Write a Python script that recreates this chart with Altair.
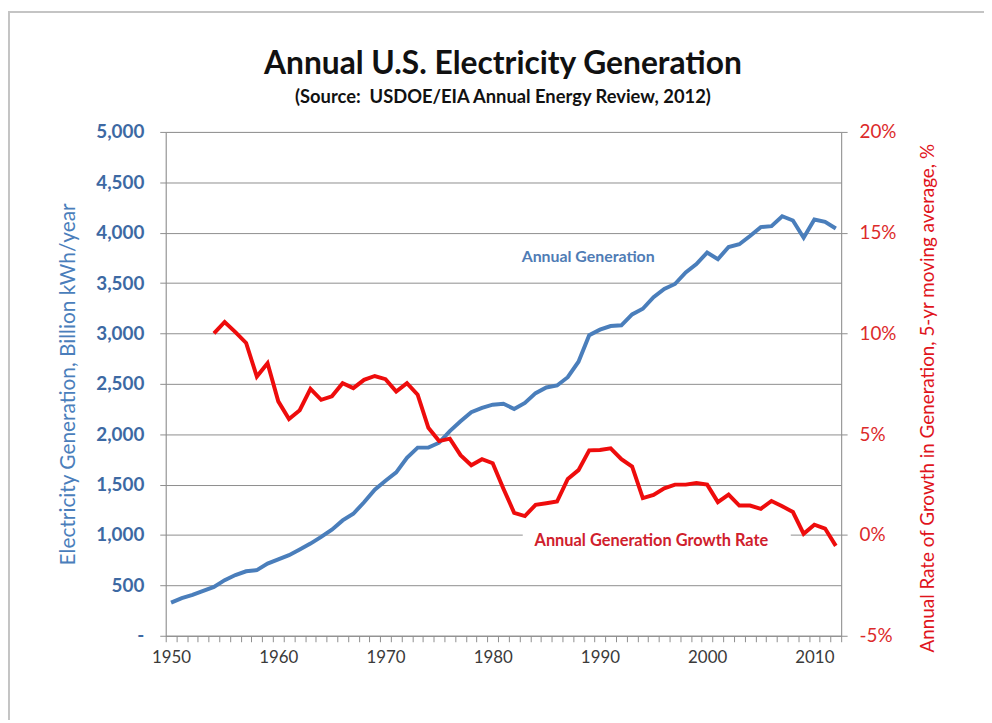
import altair as alt
import pandas as pd

# ---- data ----
gen_years = list(range(1950, 2013))
generation = [329, 374, 405, 446, 485, 552, 603, 640, 652, 716,
              758, 800, 856, 915, 981, 1053, 1145, 1211, 1325, 1450,
              1539, 1621, 1765, 1867, 1867, 1916, 2031, 2129, 2218, 2261,
              2293, 2303, 2251, 2310, 2408, 2464, 2484, 2566, 2720, 2982,
              3038, 3074, 3081, 3189, 3245, 3360, 3442, 3491, 3606, 3688,
              3803, 3737, 3858, 3885, 3967, 4055, 4065, 4163, 4121, 3950,
              4131, 4108, 4042]

rate_years = list(range(1954, 2013))
growth_rate = [10.0, 10.57, 10.07, 9.53, 7.86, 8.52, 6.63, 5.76, 6.19, 7.25,
               6.71, 6.88, 7.53, 7.29, 7.70, 7.89, 7.73, 7.12, 7.53, 6.96,
               5.32, 4.66, 4.78, 3.96, 3.46, 3.76, 3.56, 2.30, 1.10, 0.94,
               1.50, 1.58, 1.66, 2.78, 3.22, 4.20, 4.22, 4.30, 3.76, 3.40,
               1.83, 1.99, 2.32, 2.50, 2.50, 2.58, 2.50, 1.63, 2.00, 1.46,
               1.46, 1.30, 1.69, 1.43, 1.14, 0.06, 0.51, 0.32, -0.54]

left_ticks = [0, 500, 1000, 1500, 2000, 2500, 3000, 3500, 4000, 4500, 5000]
right_ticks = [-5, 0, 5, 10, 15, 20]
x_bounds = [1949.5 + i for i in range(64)]

title_text = "Annual U.S. Electricity Generation"
subtitle_text = "(Source:\u00a0 USDOE/EIA Annual Energy Review, 2012)"

gen_df = pd.DataFrame({"year": gen_years, "gen": generation})
rate_df = pd.DataFrame({"year": rate_years, "rate": growth_rate})
gen_label_df = pd.DataFrame({"year": [1982.7], "gen": [3760], "text": ["Annual Generation"]})
rate_label_df = pd.DataFrame({"year": [1983.9], "rate": [-0.28], "text": ["Annual Generation Growth Rate"]})
mask_df = pd.DataFrame({"year": [1982.8], "x2": [2007.8], "rate": [-0.6], "y2": [0.4]})
one_row = pd.DataFrame({"k": [0]})
title_df = pd.DataFrame({"t": [title_text]})
subtitle_df = pd.DataFrame({"t": [subtitle_text]})

FONT = "Lato"
BLUE = "#4a7ebb"
BLUE_TXT = "#3d69a3"
RED = "#ee0c0c"
RED_TXT = "#dc2a2a"
GRID = "#8e8e8e"
FRAME = "#c4c4c4"

x_scale = alt.Scale(domain=[1949.5, 2012.5], nice=False, zero=False)
x_axis = alt.Axis(
    values=x_bounds,
    labelExpr="((datum.value + 0.5) % 10 == 0) ? toString(datum.value + 0.5) : ''",
    labelOffset=5.4, labelOverlap=False, labelFlush=False, grid=False,
    tickSize=6, tickColor=GRID, domainColor=GRID, labelFont=FONT,
    labelFontSize=17, labelColor="#3a3a3a", labelPadding=8, title=None,
)
x_enc = alt.X("year:Q", scale=x_scale, axis=x_axis)

yl_scale = alt.Scale(domain=[0, 5000], nice=False, zero=False)
yr_scale = alt.Scale(domain=[-5, 20], nice=False, zero=False)

yl_axis = alt.Axis(
    values=left_ticks,
    labelExpr="datum.value == 0 ? '-' : format(datum.value, ',')",
    grid=True, gridColor=GRID, gridWidth=1, tickSize=6, tickColor=GRID,
    domainColor=GRID, labelFont=FONT, labelFontSize=19, labelFontWeight="bold",
    labelColor=BLUE_TXT, labelPadding=16,
    title="Electricity Generation, Billion kWh/year",
    titleFont=FONT, titleFontSize=21, titleFontWeight="normal",
    titleColor=BLUE, titlePadding=17,
)
yr_axis = alt.Axis(
    values=right_ticks, orient="right",
    labelExpr="datum.value + '%'",
    grid=False, tickSize=6, tickColor=GRID, domainColor=GRID,
    labelFont=FONT, labelFontSize=19, labelColor=RED_TXT, labelPadding=12,
    title="Annual Rate of Growth in Generation, 5-yr moving average, %",
    titleFont=FONT, titleFontSize=19, titleFontWeight="normal",
    titleColor="#e0141c", titlePadding=23, titleAngle=270, titleBaseline="top",
    titleY=268,
)

gen_line = alt.Chart(gen_df).mark_line(color=BLUE, strokeWidth=4).encode(
    x=x_enc,
    y=alt.Y("gen:Q", scale=yl_scale, axis=yl_axis),
)
gen_text = alt.Chart(gen_label_df).mark_text(
    align="left", baseline="middle", font=FONT, fontSize=16,
    fontWeight="bold", color="#4f7cb5",
).encode(x=x_enc, y=alt.Y("gen:Q", scale=yl_scale, axis=yl_axis), text="text:N")

left = alt.layer(gen_line, gen_text)

mask = alt.Chart(mask_df).mark_rect(color="white").encode(
    x=x_enc, x2="x2:Q",
    y=alt.Y("rate:Q", scale=yr_scale, axis=yr_axis), y2="y2:Q",
)
rate_line = alt.Chart(rate_df).mark_line(color=RED, strokeWidth=4).encode(
    x=x_enc,
    y=alt.Y("rate:Q", scale=yr_scale, axis=yr_axis),
)
rate_text = alt.Chart(rate_label_df).mark_text(
    align="left", baseline="middle", font=FONT, fontSize=16.5,
    fontWeight="bold", color="#d0202c",
).encode(x=x_enc, y=alt.Y("rate:Q", scale=yr_scale, axis=yr_axis), text="text:N")

right = alt.layer(mask, rate_line, rate_text)

# chart title and subtitle, drawn as text marks above the plot area
title_mark = alt.Chart(title_df).mark_text(
    font=FONT, fontSize=32, fontWeight="bold", color="#111111",
    align="center", baseline="alphabetic",
).encode(x=alt.value(340), y=alt.value(-58), text="t:N")
subtitle_mark = alt.Chart(subtitle_df).mark_text(
    font=FONT, fontSize=18.5, fontWeight="bold", color="#111111",
    align="center", baseline="alphabetic",
).encode(x=alt.value(340), y=alt.value(-29), text="t:N")

# light page frame (top and left edges), as in the reference image
frame_top = alt.Chart(one_row).mark_rule(color=FRAME, strokeWidth=2).encode(
    x=alt.value(-159), x2=alt.value(825), y=alt.value(-121)
)
frame_left = alt.Chart(one_row).mark_rule(color=FRAME, strokeWidth=2).encode(
    x=alt.value(-158), y=alt.value(-121), y2=alt.value(593)
)

chart = alt.layer(
    left, right, title_mark, subtitle_mark, frame_top, frame_left
).resolve_scale(y="independent").properties(
    width=681, height=508,
    autosize=alt.AutoSizeParams(type="none"),
    padding={"left": 159, "top": 122, "right": 144, "bottom": 85},
).configure_view(stroke=None).configure(background="white")

chart.save("out.html", embed_options={"renderer": "svg", "actions": False})
